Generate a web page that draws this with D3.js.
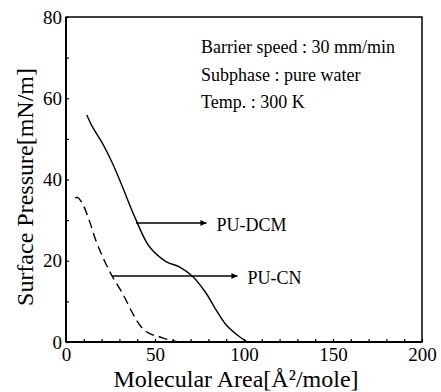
<!DOCTYPE html>
<html>
<head>
<meta charset="utf-8">
<script src="https://cdn.jsdelivr.net/npm/d3@7"></script>
<style>
  body { margin: 0; background: #fff; }
  .axis path { display: none; }
  .axis line { stroke: #000; stroke-width: 1.2; }
</style>
</head>
<body>
<div id="chart"></div>
<script>
// PU-DCM isotherm (solid)
const dcmArea = [11.7, 14.8, 20.5, 26.1, 31.7, 38.9, 46.8, 56.2, 63.7, 71.2, 78.7, 84.3, 90.0, 97.5, 101.2];
const dcmPressure = [55.9, 53.0, 48.9, 44.0, 38.2, 30.5, 23.5, 19.8, 18.5, 16.1, 12.0, 7.9, 4.2, 1.3, 0.2];

// PU-CN isotherm (dashed)
const cnArea = [5.1, 6.4, 9.2, 13.0, 16.7, 21.4, 26.1, 31.7, 37.4, 42.1, 46.8, 52.4, 58.0, 62.5];
const cnPressure = [35.4, 35.6, 34.1, 30.0, 25.1, 20.2, 16.1, 12.0, 7.1, 3.8, 2.1, 1.3, 0.5, 0.1];

const xTicks = [0, 50, 100, 150, 200];
const yTicks = [0, 20, 40, 60, 80];

// arrows: label, start area, tip area, pressure
const arrowLabels = ['PU-DCM', 'PU-CN'];
const arrowFrom = [39.3, 26.1];
const arrowTo = [78.9, 96.3];
const arrowPressure = [29.3, 16.25];

const notes = ['Barrier speed : 30 mm/min', 'Subphase : pure water', 'Temp. : 300 K'];

const FONT = 'Liberation Serif, Times New Roman, serif';

const W = 441, H = 392;
const margin = {top: 17, right: 19, bottom: 50, left: 66};
const width = W - margin.left - margin.right;
const height = H - margin.top - margin.bottom;

const svg = d3.select('#chart').append('svg')
    .attr('width', W)
    .attr('height', H)
    .attr('font-family', FONT);

const g = svg.append('g')
    .attr('transform', `translate(${margin.left},${margin.top})`);

const x = d3.scaleLinear().domain([0, 200]).range([0, width]);
const y = d3.scaleLinear().domain([0, 80]).range([height, 0]);

// axes with inward minor ticks every 10
const xAxis = d3.axisBottom(x)
    .tickValues(d3.range(0, 201, 10))
    .tickSize(-3)
    .tickPadding(6)
    .tickFormat(d => xTicks.includes(d) ? d : '');

const yAxis = d3.axisLeft(y)
    .tickValues(d3.range(0, 81, 10))
    .tickSize(-3)
    .tickPadding(4)
    .tickFormat(d => yTicks.includes(d) ? d : '');

g.append('g')
    .attr('class', 'axis x-axis')
    .attr('transform', `translate(0,${height})`)
    .call(xAxis)
    .attr('font-family', FONT)
    .attr('font-size', 19)
    .selectAll('text')
    .attr('fill', '#000');

g.append('g')
    .attr('class', 'axis y-axis')
    .call(yAxis)
    .attr('font-family', FONT)
    .attr('font-size', 19)
    .selectAll('text')
    .attr('fill', '#000');

// frame
g.append('rect')
    .attr('width', width)
    .attr('height', height)
    .attr('fill', 'none')
    .attr('stroke', '#000')
    .attr('stroke-width', 1.5);
g.append('line')
    .attr('x1', 0).attr('x2', 0).attr('y1', 0).attr('y2', height)
    .attr('stroke', '#000').attr('stroke-width', 2);
g.append('line')
    .attr('x1', 0).attr('x2', width).attr('y1', height).attr('y2', height)
    .attr('stroke', '#000').attr('stroke-width', 2);

// curves
const line = d3.line()
    .x(d => x(d[0]))
    .y(d => y(d[1]))
    .curve(d3.curveCatmullRom);

g.append('path')
    .datum(dcmArea.map((a, i) => [a, dcmPressure[i]]))
    .attr('d', line)
    .attr('fill', 'none')
    .attr('stroke', '#000')
    .attr('stroke-width', 1.4);

g.append('path')
    .datum(cnArea.map((a, i) => [a, cnPressure[i]]))
    .attr('d', line)
    .attr('fill', 'none')
    .attr('stroke', '#000')
    .attr('stroke-width', 1.4)
    .attr('stroke-dasharray', '9,5');

// arrows
svg.append('defs').append('marker')
    .attr('id', 'arrow')
    .attr('viewBox', '0 0 10 10')
    .attr('refX', 10)
    .attr('refY', 5)
    .attr('markerWidth', 8)
    .attr('markerHeight', 6)
    .attr('markerUnits', 'userSpaceOnUse')
    .attr('orient', 'auto')
  .append('path')
    .attr('d', 'M0,0L10,5L0,10Z')
    .attr('fill', '#000');

arrowLabels.forEach((label, i) => {
  g.append('line')
      .attr('x1', x(arrowFrom[i]))
      .attr('x2', x(arrowTo[i]))
      .attr('y1', y(arrowPressure[i]))
      .attr('y2', y(arrowPressure[i]))
      .attr('stroke', '#000')
      .attr('stroke-width', 1.4)
      .attr('marker-end', 'url(#arrow)');
  g.append('text')
      .attr('x', x(arrowTo[i]) + 10)
      .attr('y', y(arrowPressure[i]))
      .attr('dy', '0.42em')
      .attr('font-size', 18)
      .text(label);
});

// condition notes
g.selectAll('.note')
    .data(notes)
  .join('text')
    .attr('class', 'note')
    .attr('x', 135)
    .attr('y', (d, i) => 36 + i * 27.5)
    .attr('font-size', 18)
    .text(d => d);

// axis titles
svg.append('text')
    .attr('x', 236)
    .attr('y', 387)
    .attr('text-anchor', 'middle')
    .attr('font-size', 24)
    .text('Molecular Area[Å²/mole]');

svg.append('text')
    .attr('transform', 'translate(33,187) rotate(-90)')
    .attr('text-anchor', 'middle')
    .attr('font-size', 24)
    .text('Surface Pressure[mN/m]');
</script>
</body>
</html>
